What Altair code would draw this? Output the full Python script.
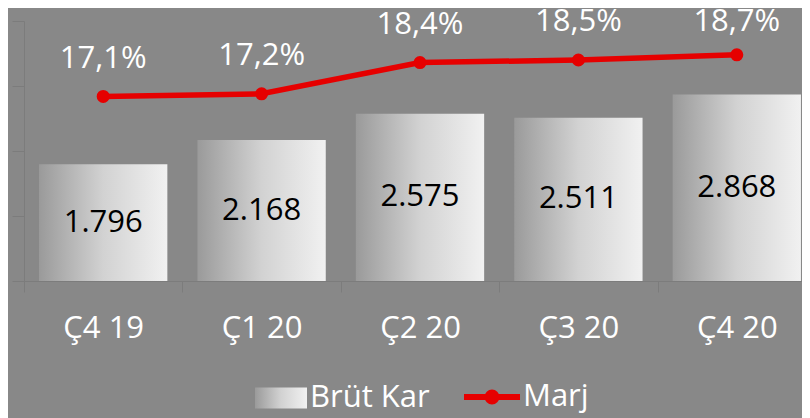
import altair as alt
import pandas as pd

quarters = ["Ç4 19", "Ç1 20", "Ç2 20", "Ç3 20", "Ç4 20"]
gross_profit = [1796, 2168, 2575, 2511, 2868]
margin_pct = [17.1, 17.2, 18.4, 18.5, 18.7]
series_names = ["Brüt Kar", "Marj"]

gross_labels = [f"{v:,}".replace(",", ".") for v in gross_profit]
margin_labels = [f"{m:.1f}%".replace(".", ",") for m in margin_pct]

df = pd.DataFrame({
    "quarter": quarters,
    "gross": gross_profit,
    "half": [v / 2 for v in gross_profit],
    "gross_label": gross_labels,
    "margin": margin_pct,
    "margin_label": margin_labels,
    "bar_series": series_names[0],
    "line_series": series_names[1],
})

FONT = "Open Sans"
RED = "#e60000"
AXIS_C = "#7c7c7c"
GRAD = ("{gradient: 'linear', x1: 0, y1: 0, x2: 1, y2: 0, stops: ["
        "{offset: 0, color: '#9a9a9a'}, {offset: 0.5, color: '#d2d2d2'}, "
        "{offset: 1, color: '#f1f1f1'}]}")

x_enc = alt.X(
    "quarter:N", sort=quarters,
    scale=alt.Scale(range=[0, 792], paddingInner=0, paddingOuter=0),
    axis=alt.Axis(title=None, labelAngle=0, labelColor="white", labelFont=FONT,
                  labelFontSize=31, labelPadding=36, labelBaseline="middle",
                  tickBand="extent", tickSize=11, tickColor=AXIS_C,
                  domainColor=AXIS_C, grid=False),
)

y_bar = alt.Y("gross:Q", scale=alt.Scale(domain=[0, 4000]),
              axis=alt.Axis(title=None, labels=False, values=[0, 1000, 2000, 3000, 4000],
                            tickSize=12, tickColor=AXIS_C, domainColor=AXIS_C, grid=False))

bars = alt.Chart(df).mark_bar(width=alt.RelativeBandSize(0.81)).encode(
    x=x_enc,
    y=y_bar,
    fill=alt.Fill("bar_series:N",
                  scale=alt.Scale(domain=[series_names[0]], range=[alt.ExprRef(expr=GRAD)]),
                  legend=alt.Legend(orient="none", legendX=231, legendY=351, title=None,
                                    symbolType="M-1,-0.404H1V0.404H-1Z", symbolSize=2704,
                                    symbolStrokeWidth=0, labelFont=FONT, labelFontSize=31,
                                    labelColor="white", labelOffset=3, padding=0)),
)

bar_text = alt.Chart(df).mark_text(font=FONT, fontSize=31, color="black", baseline="middle").encode(
    x=alt.X("quarter:N", sort=quarters),
    y=alt.Y("half:Q", title=None),
    text="gross_label:N",
)

line_y = alt.Y("margin:Q", scale=alt.Scale(domain=[10, 20]), axis=None)

line = alt.Chart(df).mark_line(strokeWidth=5.5).encode(
    x=alt.X("quarter:N", sort=quarters),
    y=line_y,
    stroke=alt.Stroke("line_series:N",
                      scale=alt.Scale(domain=[series_names[1]], range=[RED]),
                      legend=alt.Legend(orient="none", legendX=437, legendY=345, title=None,
                                        symbolType="M-1,0H1M0.16,0A0.16,0.16,0,1,1,-0.16,0A0.16,0.16,0,1,1,0.16,0Z",
                                        symbolSize=3136, symbolStrokeWidth=6,
                                        symbolFillColor=RED, symbolStrokeColor=RED,
                                        labelFont=FONT, labelFontSize=31,
                                        labelColor="white", labelOffset=0, padding=0)),
)

points = alt.Chart(df).mark_circle(size=170, color=RED, opacity=1).encode(
    x=alt.X("quarter:N", sort=quarters),
    y=line_y,
)

line_text = alt.Chart(df).transform_calculate(
    label_pos="min(datum.margin + 1.45, 19.95)"
).mark_text(font=FONT, fontSize=31, color="white", baseline="middle").encode(
    x=alt.X("quarter:N", sort=quarters),
    y=alt.Y("label_pos:Q", scale=alt.Scale(domain=[10, 20]), axis=None),
    text="margin_label:N",
)

chart = alt.layer(
    alt.layer(bars, bar_text),
    alt.layer(line, points, line_text),
).resolve_scale(y="independent").properties(
    width=778, height=260,
    autosize=alt.AutoSizeParams(type="none"),
    padding={"left": 16, "top": 13, "right": 0, "bottom": 137},
    background="#888888",
).configure_view(stroke=None)

chart.save("out.html", embed_options={"renderer": "svg", "actions": False})
